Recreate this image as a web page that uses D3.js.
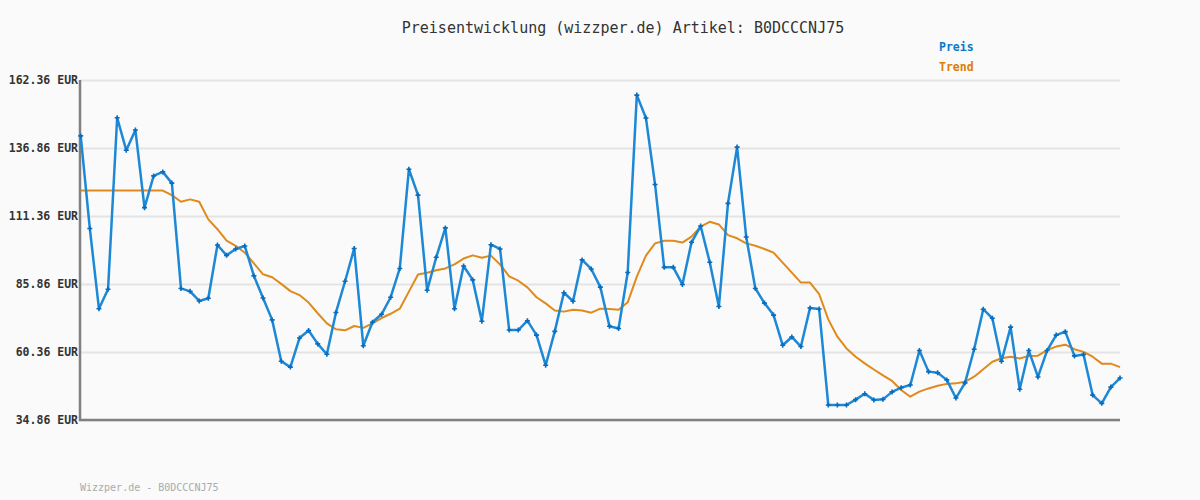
<!DOCTYPE html>
<html>
<head>
<meta charset="utf-8">
<script src="https://cdn.jsdelivr.net/npm/d3@7"></script>
<style>
  body { margin: 0; background: #fafafa; }
  svg { display: block; }
  text { font-family: "DejaVu Sans Mono", monospace; }
</style>
</head>
<body>
<div id="chart"></div>
<script>
const preis = [
  141.4, 106.7, 76.6, 83.9, 148.2, 136.0, 143.6, 114.5, 126.4, 127.9,
  123.7, 84.2, 83.1, 79.5, 80.5, 100.5, 96.6, 99.0, 100.1, 88.9,
  80.6, 72.4, 56.9, 54.7, 65.6, 68.4, 63.4, 59.5, 75.2, 86.9,
  99.2, 62.7, 71.5, 74.5, 80.9, 91.7, 128.9, 119.2, 83.5, 95.9,
  106.9, 76.6, 92.6, 87.4, 71.9, 100.6, 99.0, 68.6, 68.6, 72.1,
  66.7, 55.4, 68.1, 82.6, 79.4, 94.9, 91.5, 84.7, 70.0, 69.2,
  90.2, 156.7, 148.1, 123.2, 92.1, 92.1, 85.7, 101.5, 107.6, 94.0,
  77.4, 116.1, 137.2, 103.5, 84.2, 78.7, 74.2, 62.9, 66.0, 62.4,
  76.9, 76.5, 40.5, 40.5, 40.5, 42.5, 44.7, 42.4, 42.6, 45.4,
  47.0, 48.0, 60.9, 53.0, 52.6, 49.9, 43.1, 48.8, 61.4, 76.4,
  73.0, 56.9, 69.7, 46.4, 60.9, 51.0, 60.9, 66.7, 68.0, 58.9,
  59.4, 44.2, 41.1, 47.2, 50.6
];

// trend line (EUR)
const trend = [
  120.9, 120.9, 120.9, 120.9, 120.9, 120.9, 120.9, 120.9, 120.9, 120.9,
  119.2, 116.7, 117.6, 116.7, 110.1, 106.4, 102.1, 100.2, 97.6, 93.6,
  89.5, 88.4, 85.9, 83.2, 81.7, 78.9, 74.9, 71.1, 68.9, 68.5,
  70.1, 69.4, 71.1, 73.1, 74.7, 76.6, 83.0, 89.4, 90.1, 91.0,
  91.7, 93.2, 95.4, 96.6, 95.7, 96.5, 93.2, 88.7, 87.1, 84.6,
  80.9, 78.6, 75.9, 75.5, 76.2, 75.9, 75.1, 76.6, 76.5, 76.2,
  79.0, 88.6, 96.5, 101.1, 102.1, 102.1, 101.4, 103.6, 107.4, 109.2,
  108.2, 104.2, 103.0, 101.1, 100.2, 99.0, 97.6, 93.9, 90.1, 86.4,
  86.4, 82.1, 72.6, 66.1, 61.7, 58.6, 56.1, 53.8, 51.6, 49.5,
  46.1, 43.6, 45.5, 46.7, 47.7, 48.4, 48.6, 49.2, 51.1, 53.9,
  56.7, 58.0, 58.6, 57.9, 58.9, 59.0, 61.1, 62.4, 63.1, 61.4,
  60.4, 58.6, 56.0, 56.0, 54.7
];

const yTicks = [34.86, 60.36, 85.86, 111.36, 136.86, 162.36];
const legendItems = ["Preis", "Trend"];
const legendColors = ["#0a78c8", "#e07c00"];
const artikel = "B0DCCCNJ75";

const width = 1200, height = 500;
const margin = {top: 80, right: 80, bottom: 80, left: 80};

const svg = d3.select("#chart").append("svg")
    .attr("width", width)
    .attr("height", height)
    .style("background", "#fafafa");

const xScale = d3.scaleLinear().domain([0, preis.length - 1]).range([80.7, 1120]);
const yScale = d3.scaleLinear().domain([34.86, 162.36]).range([420, 80]);

// grid + tick labels
const yAxis = d3.axisLeft(yScale)
    .tickValues(yTicks)
    .tickSize(-(1120 - margin.left))
    .tickPadding(3)
    .tickFormat(d => d.toFixed(2) + " EUR");

const gy = svg.append("g")
    .attr("transform", "translate(" + margin.left + ",0)")
    .call(yAxis);
gy.select(".domain").remove();
gy.selectAll(".tick line").attr("stroke", "#e4e4e4").attr("stroke-width", 2);
gy.selectAll(".tick text")
    .attr("fill", "#333")
    .style("font-size", "11.5px")
    .style("font-weight", "bold")
    .attr("x", -2);

// axis lines
svg.append("path")
    .attr("d", "M" + margin.left + "," + yScale(162.36) + "V" + yScale(34.86) + "H1120")
    .attr("fill", "none")
    .attr("stroke", "#808080")
    .attr("stroke-width", 2.5);

// trend line
const line = d3.line().x((d, i) => xScale(i)).y(d => yScale(d));

svg.append("path")
    .datum(trend)
    .attr("d", line)
    .attr("fill", "none")
    .attr("stroke", "#e08a1c")
    .attr("stroke-width", 2)
    .attr("stroke-linejoin", "round");

// price line
svg.append("path")
    .datum(preis)
    .attr("d", line)
    .attr("fill", "none")
    .attr("stroke", "#1c88d6")
    .attr("stroke-width", 2.5)
    .attr("stroke-linejoin", "round");

// little cross markers
svg.append("g").selectAll("path.dot")
    .data(preis)
    .enter().append("path")
    .attr("class", "dot")
    .attr("d", (d, i) => {
      const cx = xScale(i), cy = yScale(d);
      return "M" + (cx - 2.5) + "," + cy + "H" + (cx + 2.5) + "M" + cx + "," + (cy - 2.5) + "V" + (cy + 2.5);
    })
    .attr("stroke", "#0a6cbc")
    .attr("stroke-width", 1.6);

// title
svg.append("text")
    .attr("x", 623)
    .attr("y", 33)
    .attr("text-anchor", "middle")
    .attr("fill", "#333")
    .style("font-size", "15px")
    .text("Preisentwicklung (wizzper.de) Artikel: " + artikel);

// legend
svg.append("g").selectAll("text")
    .data(legendItems)
    .enter().append("text")
    .attr("x", 939)
    .attr("y", (d, i) => 51 + i * 20)
    .attr("fill", (d, i) => legendColors[i])
    .style("font-size", "11.5px")
    .style("font-weight", "bold")
    .text(d => d);

// footer
svg.append("text")
    .attr("x", 80)
    .attr("y", 491)
    .attr("fill", "#aaa")
    .style("font-size", "10px")
    .text("Wizzper.de - " + artikel);
</script>
</body>
</html>
